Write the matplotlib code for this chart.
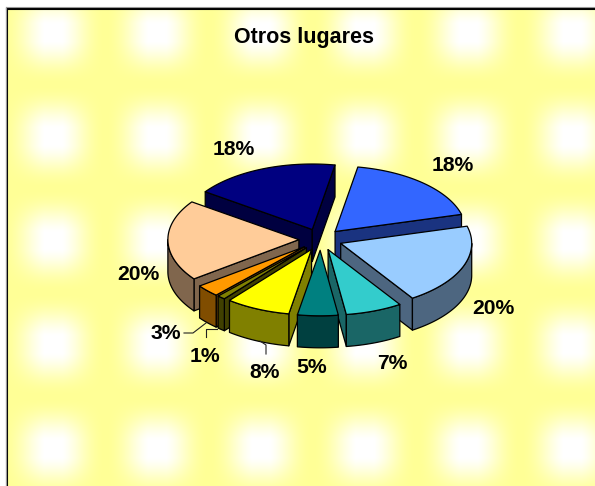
import numpy as np
import matplotlib
matplotlib.use("Agg")
import matplotlib.pyplot as plt
from matplotlib.patches import Polygon, Rectangle

plt.rcParams['font.family'] = ['Liberation Sans', 'DejaVu Sans']

# ---- data ----
title_text = "Otros lugares"
slice_values = [18, 20, 7, 5, 8, 1, 3, 20, 18]
slice_labels = ["18%", "20%", "7%", "5%", "8%", "1%", "3%", "20%", "18%"]
top_colors = ["#3366FF", "#99CCFF", "#33CCCC", "#008080", "#FFFF00",
              "#808000", "#FF9900", "#FFCC99", "#000080"]
side_colors = ["#1A3380", "#4D6680", "#1A6666", "#004040", "#808000",
               "#404000", "#804D00", "#80664D", "#000040"]

# ---- layout (pixels) ----
W, H = 595, 486
CX, CY, RX, RY, DEPTH = 320.5, 239.5, 131.0, 65.5, 32.0
EXPLODE = 0.165
START_DEG = 10.0
DRAW_ORDER = [8, 0, 7, 1, 6, 5, 2, 4, 3]
LABEL_POS = [(453, 165), (493, 308), (392, 363), (312, 367), (265, 372),
             (205, 356), (166, 333), (138, 274), (234, 149)]
LEADERS = [((184, 333), (193, 333), (206, 323)),
           ((206, 337), (206, 329), (217, 329)),
           ((266, 354), (266, 345), (260, 341))]
FRAME_X, FRAME_Y = 7, 9

fig = plt.figure(figsize=(W / 100, H / 100), dpi=100, facecolor="white")
ax = fig.add_axes([0, 0, 1, 1])
ax.set_xlim(0, W)
ax.set_ylim(H, 0)
ax.axis("off")

# ---- textured background ----
yy, xx = np.mgrid[0:H, 0:W]
def bump(v, centre, period=103.8):
    return np.clip(1.08 * np.cos(np.pi * (v - centre) / period) ** 2, 0, 1)
white = bump(xx, 53.0) * bump(yy, 33.0)
tex = np.ones((H, W, 3))
tex[..., 2] = (0x96 + (255 - 0x96) * white) / 255
im = ax.imshow(tex, extent=(0, W, H, 0), origin="upper", interpolation="bilinear",
               zorder=0, aspect="auto")
im.set_clip_path(Rectangle((FRAME_X, FRAME_Y), W, H, transform=ax.transData))
ax.plot([FRAME_X, FRAME_X], [H, FRAME_Y], color="black", lw=1.5, zorder=1, solid_capstyle="projecting")
ax.plot([FRAME_X, W], [FRAME_Y, FRAME_Y], color="black", lw=1.5, zorder=1, solid_capstyle="projecting")
ax.plot([FRAME_X - 1.5, FRAME_X - 1.5], [H, FRAME_Y - 1.5], color="#999999", lw=0.8, zorder=1)
ax.plot([FRAME_X - 1.5, W], [FRAME_Y - 1.5, FRAME_Y - 1.5], color="#999999", lw=0.8, zorder=1)

# ---- exploded 3-D pie, angles clockwise from the top ----
total = sum(slice_values)
edges = START_DEG + 360.0 * np.cumsum([0] + slice_values) / total
def pt(theta, r=1.0):
    t = np.radians(theta)
    return np.column_stack([r * RX * np.sin(t), -r * RY * np.cos(t)])

z = 2
for i in DRAW_ORDER:
    a0, a1 = edges[i], edges[i + 1]
    mid = (a0 + a1) / 2
    apex = np.array([CX, CY]) + pt(mid, EXPLODE)[0]
    down = np.array([0, DEPTH])
    arc = np.linspace(a0, a1, 60)
    rim = apex + pt(arc)
    faces = []
    if np.sin(np.radians(a0)) < 0:
        p = apex + pt(a0)[0]
        faces.append([apex, p, p + down, apex + down])
    if np.sin(np.radians(a1)) > 0:
        p = apex + pt(a1)[0]
        faces.append([apex, p, p + down, apex + down])
    vis = np.linspace(max(a0, 90), min(a1, 270), 60)
    if vis[0] < vis[-1]:
        seg = apex + pt(vis)
        faces.append(np.vstack([seg, (seg + down)[::-1]]))
    for f in faces:
        ax.add_patch(Polygon(np.array(f), closed=True, fc=side_colors[i], ec="black",
                             lw=0.9, joinstyle="round", zorder=z))
        z += 1
    top = np.vstack([apex, rim])
    ax.add_patch(Polygon(top, closed=True, fc=top_colors[i], ec="black", lw=0.9,
                         joinstyle="round", zorder=z))
    z += 1

# ---- leaders and labels ----
for line in LEADERS:
    xs, ys = zip(*line)
    ax.plot(xs, ys, color="#222222", lw=0.8, zorder=z)
for lab, (x, y) in zip(slice_labels, LABEL_POS):
    ax.text(x, y, lab, fontsize=15.2, fontweight="bold", ha="center", va="center",
            color="black", zorder=z + 1)
ax.text(304.5, 38, title_text, fontsize=15.5, fontweight="bold", ha="center", va="center",
        color="black", zorder=z + 1)

fig.savefig("out.png", dpi=100)
